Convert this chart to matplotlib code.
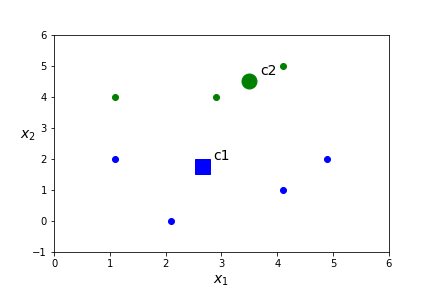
import matplotlib
matplotlib.use("Agg")
import matplotlib.pyplot as plt

# cluster 1 (blue)
x1_blue = [1.1, 2.1, 4.1, 4.9]
x2_blue = [2, 0, 1, 2]
# cluster 2 (green)
x1_green = [1.1, 2.9, 4.1]
x2_green = [4, 4, 5]
# centroids
c1 = (2.66, 1.78)
c2 = (3.5, 4.5)

fig = plt.figure(figsize=(6, 4), dpi=72)
plt.subplots_adjust(bottom=0.124)
plt.plot(x1_blue, x2_blue, "bo")
plt.plot(x1_green, x2_green, "go")
plt.plot(c1[0], c1[1], "bs", markersize=15)
plt.plot(c2[0], c2[1], "go", markersize=15)
plt.text(c1[0] + 0.2, c1[1] + 0.2, "c1", fontsize=14)
plt.text(c2[0] + 0.2, c2[1] + 0.2, "c2", fontsize=14)

plt.xlim(0, 6)
plt.ylim(-1, 6)
plt.xlabel("$x_1$", fontsize=14)
plt.ylabel("$x_2$", fontsize=14, rotation=0)
plt.savefig("out.png", dpi=72)
